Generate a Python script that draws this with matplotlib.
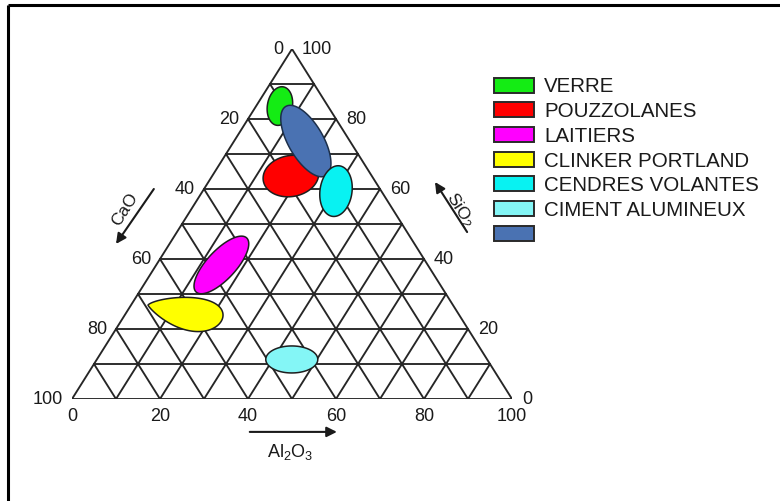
import numpy as np
import matplotlib
matplotlib.use("Agg")
import matplotlib.pyplot as plt
from matplotlib.patches import Polygon, Rectangle

plt.rcParams['font.family'] = ['Liberation Sans', 'DejaVu Sans']

# ---- data: oxide composition (wt %) at the centre of each material domain ----
materials = ['VERRE', 'POUZZOLANES', 'LAITIERS', 'CLINKER PORTLAND',
             'CENDRES VOLANTES', 'CIMENT ALUMINEUX', '']
cao = [10.9, 18.4, 46.9, 62.0, 10.3, 44.4, 10.0]
sio2 = [83.7, 63.7, 38.3, 24.4, 59.4, 11.3, 73.7]
al2o3 = [5.4, 17.9, 14.8, 13.6, 30.3, 44.3, 16.3]
colors = ['#14ec14', '#ff0000', '#ff00ff', '#ffff00', '#08f2f2', '#84f6f6', '#4a72b2']

tick_values = [0, 20, 40, 60, 80, 100]
grid_step = 10

# shape of each domain: half-axes (px), tilt (deg, major axis a), outline kind
shapes = [
    dict(a=19.5, b=12.5, angle=80, kind='ellipse'),
    dict(a=28, b=20.5, angle=10, kind='ellipse'),
    dict(a=37, b=14.5, angle=47, kind='ellipse'),
    dict(a=37.5, b=20, angle=0, kind='drop'),
    dict(a=25.5, b=16, angle=82, kind='ellipse'),
    dict(a=26, b=13.5, angle=0, kind='ellipse'),
    dict(a=40, b=17.5, angle=-60, kind='ellipse'),
]
draw_order = [0, 1, 6, 4, 2, 3, 5]


def tern(c, s, a):
    """Ternary (CaO, SiO2, Al2O3) -> cartesian (X, Y) in percent units."""
    return a + s / 2.0, s


W, H = 780, 502
fig = plt.figure(figsize=(W / 100, H / 100), dpi=100)

# pixel-space overlay for frame and legend
over = fig.add_axes([0, 0, 1, 1])
over.set_xlim(0, W)
over.set_ylim(H, 0)
over.axis('off')

# ternary axes: triangle fills this box
tx0, ty_base, tw, th = 72, 400, 440, 350
ax = fig.add_axes([tx0 / W, (H - ty_base) / H, tw / W, th / H])
ax.set_xlim(0, 100)
ax.set_ylim(0, 100)
ax.axis('off')
sx, sy = tw / 100.0, th / 100.0   # px per percent unit

line_kw = dict(color='#262626', lw=1.35, solid_capstyle='round', zorder=1)

# outline
corners = [tern(100, 0, 0), tern(0, 0, 100), tern(0, 100, 0), tern(100, 0, 0)]
ax.plot([p[0] for p in corners], [p[1] for p in corners], **line_kw)

# grid
for v in range(grid_step, 100, grid_step):
    # constant SiO2
    p1, p2 = tern(100 - v, v, 0), tern(0, v, 100 - v)
    ax.plot([p1[0], p2[0]], [p1[1], p2[1]], **line_kw)
    # constant Al2O3
    p1, p2 = tern(100 - v, 0, v), tern(0, 100 - v, v)
    ax.plot([p1[0], p2[0]], [p1[1], p2[1]], **line_kw)
    # constant CaO
    p1, p2 = tern(v, 0, 100 - v), tern(v, 100 - v, 0)
    ax.plot([p1[0], p2[0]], [p1[1], p2[1]], **line_kw)


def outline(kind, a, b, angle, n=240):
    """Outline offsets in px (y up) around the domain centre."""
    t = np.linspace(0, 2 * np.pi, n)
    u = np.cos(t)
    if kind == 'drop':
        # lemon shape, pointed at the left end, flat upper edge
        half = b * np.abs(np.sin(t)) * ((1 + u) / 2.0) ** 0.3
        mid = 5.0 * u - 3.5 * u ** 2          # centre line, px downward
        x = a * u
        y = -(mid + np.sign(np.sin(t)) * half)
    else:
        x = a * u
        y = b * np.sin(t)
    th_ = np.deg2rad(angle)
    xr = x * np.cos(th_) - y * np.sin(th_)
    yr = x * np.sin(th_) + y * np.cos(th_)
    return xr, yr


for z, i in enumerate(draw_order):
    cx, cy = tern(cao[i], sio2[i], al2o3[i])
    sh = shapes[i]
    dx, dy = outline(sh['kind'], sh['a'], sh['b'], sh['angle'])
    verts = np.column_stack([cx + dx / sx, cy + dy / sy])
    edge = '#1c2f4a' if i == 6 else '#1e1e1e'
    ax.add_patch(Polygon(verts, closed=True, facecolor=colors[i],
                         edgecolor=edge, lw=1.1, zorder=3 + z, clip_on=False))

# tick labels
tick_kw = dict(fontsize=13, color='#1a1a1a', textcoords='offset pixels',
               annotation_clip=False)
for v in tick_values:
    # CaO on the left edge
    ax.annotate(str(v), tern(v, 100 - v, 0), xytext=(-9, 0),
                ha='right', va='center', **tick_kw)
    # SiO2 on the right edge
    ax.annotate(str(v), tern(0, v, 100 - v), xytext=(10, 0),
                ha='left', va='center', **tick_kw)
    # Al2O3 along the base
    ax.annotate(str(v), tern(100 - v, 0, v), xytext=(0, -17),
                ha='center', va='center', **tick_kw)

# axis arrows and titles
arrow_kw = dict(arrowstyle='-|>', lw=1.5, color='#1a1a1a', mutation_scale=15,
                shrinkA=0, shrinkB=0)
ax.annotate('', xy=(60.2, -9.4), xytext=(40.4, -9.4), arrowprops=arrow_kw,
            annotation_clip=False)
ax.text(49.5, -14.9, r'$\mathregular{Al_2O_3}$', fontsize=13, ha='center',
        va='center', color='#1a1a1a', clip_on=False)

ax.annotate('', xy=(10.0, 44.3), xytext=(18.6, 60.0), arrowprops=arrow_kw,
            annotation_clip=False)
ax.text(12.0, 54.3, 'CaO', fontsize=12.5, rotation=57.8, ha='center',
        va='center', rotation_mode='anchor', color='#1a1a1a', clip_on=False)

ax.annotate('', xy=(82.5, 62.0), xytext=(89.8, 47.7), arrowprops=arrow_kw,
            annotation_clip=False)
ax.text(88.2, 54.3, r'$\mathregular{SiO_2}$', fontsize=12.5, rotation=-57.8,
        ha='center', va='center', rotation_mode='anchor', color='#1a1a1a',
        clip_on=False)

# legend
leg_x, leg_y0, leg_dy = 494, 86, 24.7
for k, name in enumerate(materials):
    yc = leg_y0 + k * leg_dy
    over.add_patch(Rectangle((leg_x, yc - 7.5), 40, 15, facecolor=colors[k],
                             edgecolor='#2a2a2a', lw=1.4))
    if name:
        over.text(544, yc + 1, name, fontsize=14.8, ha='left', va='center',
                  color='#1a1a1a')

# frame (top and left edges)
over.plot([8, W], [6, 6], color='black', lw=2.2, solid_capstyle='butt')
over.plot([8, 8], [6, H], color='black', lw=2.2, solid_capstyle='butt')

fig.savefig('out.png', dpi=100)
